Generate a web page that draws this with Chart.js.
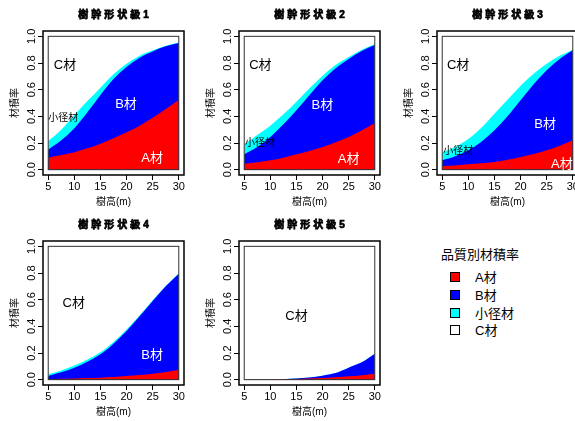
<!DOCTYPE html>
<html>
<head>
<meta charset="utf-8">
<script src="https://cdn.jsdelivr.net/npm/chart.js@4.4.1/dist/chart.umd.min.js"></script>
<style>
  body { margin:0; width:575px; height:421px; overflow:hidden; background:#fff; position:relative; }
  canvas { position:absolute; }
  .lg { position:absolute; font-family:"Liberation Sans","Noto Sans CJK JP",sans-serif; color:#000; white-space:nowrap; }
  .sw { position:absolute; width:10px; height:10px; border:1px solid #000; box-sizing:border-box; }
</style>
</head>
<body>
<script>
// tree height (m)
const heights = [5, 7.5, 10, 12.5, 15, 17.5, 20, 22.5, 25, 27.5, 30];
const xTicks = [5, 10, 15, 20, 25, 30];
const yTicks = [0, 0.2, 0.4, 0.6, 0.8, 1.0];

const seriesNames = ['A材', 'B材', '小径材', 'C材'];
const seriesColors = ['#ff0000', '#0000ff', '#00ffff', '#ffffff'];

// 樹幹形状級1
const aShare1 = [0.09, 0.11, 0.13, 0.16, 0.195, 0.235, 0.28, 0.33, 0.39, 0.455, 0.525];
const bShare1 = [0.06, 0.11, 0.18, 0.27, 0.365, 0.445, 0.49, 0.51, 0.497, 0.47, 0.425];
const sShare1 = [0.065, 0.08, 0.10, 0.085, 0.055, 0.035, 0.025, 0.015, 0.008, 0.005, 0.003];
// 樹幹形状級2
const aShare2 = [0.045, 0.055, 0.07, 0.09, 0.115, 0.14, 0.17, 0.205, 0.245, 0.295, 0.35];
const bShare2 = [0.07, 0.115, 0.175, 0.25, 0.33, 0.42, 0.5, 0.555, 0.585, 0.595, 0.585];
const sShare2 = [0.075, 0.09, 0.085, 0.075, 0.065, 0.05, 0.035, 0.025, 0.015, 0.01, 0.005];
// 樹幹形状級3
const aShare3 = [0.027, 0.032, 0.04, 0.048, 0.057, 0.074, 0.095, 0.118, 0.145, 0.18, 0.22];
const bShare3 = [0.043, 0.068, 0.105, 0.162, 0.238, 0.326, 0.425, 0.522, 0.6, 0.65, 0.675];
const sShare3 = [0.06, 0.07, 0.085, 0.105, 0.125, 0.125, 0.11, 0.08, 0.05, 0.025, 0.005];
// 樹幹形状級4
const aShare4 = [0.004, 0.006, 0.009, 0.012, 0.015, 0.02, 0.027, 0.035, 0.045, 0.058, 0.075];
const bShare4 = [0.024, 0.049, 0.081, 0.123, 0.175, 0.25, 0.338, 0.44, 0.545, 0.642, 0.72];
const sShare4 = [0.012, 0.014, 0.016, 0.016, 0.015, 0.013, 0.011, 0.008, 0.005, 0.003, 0.001];
// 樹幹形状級5
const aShare5 = [0, 0.001, 0.002, 0.003, 0.005, 0.008, 0.012, 0.018, 0.025, 0.034, 0.045];
const bShare5 = [0, 0, 0, 0.001, 0.003, 0.008, 0.018, 0.032, 0.065, 0.096, 0.15];
const sShare5 = [0, 0, 0, 0, 0, 0, 0, 0, 0, 0, 0];

const FONT = '"Liberation Sans","Noto Sans CJK JP",sans-serif';

const panels = [
  { title:'樹幹形状級1', a:aShare1, b:bShare1, s:sShare1,
    notes:[['C材',8.2,0.78,13,'#000'],['B材',19.9,0.49,13,'#fff'],['A材',24.9,0.083,13,'#fff'],['小径材',7.9,0.387,10,'#000']] },
  { title:'樹幹形状級2', a:aShare2, b:bShare2, s:sShare2,
    notes:[['C材',8.1,0.78,13,'#000'],['B材',19.95,0.48,13,'#fff'],['A材',25,0.08,13,'#fff'],['小径材',8.0,0.195,10,'#000']] },
  { title:'樹幹形状級3', a:aShare3, b:bShare3, s:sShare3,
    notes:[['C材',8.05,0.78,13,'#000'],['B材',24.7,0.34,13,'#fff'],['A材',27.9,0.04,13,'#fff'],['小径材',8.05,0.14,10,'#000']] },
  { title:'樹幹形状級4', a:aShare4, b:bShare4, s:sShare4,
    notes:[['C材',9.9,0.575,13,'#000'],['B材',24.9,0.18,13,'#fff']] },
  { title:'樹幹形状級5', a:aShare5, b:bShare5, s:sShare5,
    notes:[['C材',15,0.475,13,'#000']] }
];

const colLeft = [0, 196, 394];

// R base-graphics look: box, inner frame, rotated y labels, titles, text notes
const rBase = {
  id: 'rbase',
  afterDatasetsDraw(chart, args, opts) {
    const {ctx, chartArea: a, scales: {x, y}} = chart;
    ctx.save();
    const x0 = x.getPixelForValue(5), x1 = x.getPixelForValue(30);
    const y0 = y.getPixelForValue(0), y1 = y.getPixelForValue(1);
    ctx.strokeStyle = '#333';
    ctx.lineWidth = 1;
    ctx.strokeRect(x0, y1, x1 - x0, y0 - y1);

    ctx.textAlign = 'center';
    ctx.textBaseline = 'middle';
    opts.notes.forEach(n => {
      ctx.font = n[3] + 'px ' + FONT;
      ctx.fillStyle = n[4];
      ctx.fillText(n[0], x.getPixelForValue(n[1]), y.getPixelForValue(n[2]));
    });

    ctx.strokeStyle = '#000';
    ctx.lineWidth = 1.5;
    ctx.strokeRect(a.left, a.top, a.width, a.height);

    ctx.fillStyle = '#000';
    ctx.font = '11px ' + FONT;
    y.ticks.forEach(t => {
      ctx.save();
      ctx.translate(a.left - 11, y.getPixelForValue(t.value));
      ctx.rotate(-Math.PI / 2);
      ctx.fillText(t.value.toFixed(1), 0, 0);
      ctx.restore();
    });

    ctx.font = '10px ' + FONT;
    ctx.save();
    ctx.translate(a.left - 28, (y0 + y1) / 2);
    ctx.rotate(-Math.PI / 2);
    ctx.fillText('材積率', 0, 0);
    ctx.restore();
    ctx.fillText('樹高(m)', (x0 + x1) / 2, a.bottom + 27);

    // heavy title
    ctx.font = 'bold 10px ' + FONT;
    ctx.letterSpacing = '3px';
    ctx.lineWidth = 0.7;
    ctx.fillText(opts.title, (x0 + x1) / 2 + 1.5, 15);
    ctx.strokeText(opts.title, (x0 + x1) / 2 + 1.5, 15);
    ctx.restore();
  }
};

function series(vals, i) {
  return {
    label: seriesNames[i],
    data: heights.map((h, k) => ({x: h, y: vals[k]})),
    backgroundColor: seriesColors[i],
    borderWidth: 0,
    pointRadius: 0,
    fill: 'origin',
    cubicInterpolationMode: 'monotone'
  };
}

const tickGrid = {drawOnChartArea: false, drawTicks: true, tickLength: 5, color: '#000', lineWidth: 1};

panels.forEach((p, i) => {
  const col = i % 3, row = Math.floor(i / 3);
  const cv = document.createElement('canvas');
  cv.width = 197; cv.height = 210;
  cv.style.left = colLeft[col] + 'px';
  cv.style.top = (row * 210) + 'px';
  document.body.appendChild(cv);

  new Chart(cv, {
    type: 'line',
    data: { datasets: [series(p.a, 0), series(p.b, 1), series(p.s, 2)] },
    options: {
      responsive: false,
      devicePixelRatio: 1,
      animation: false,
      events: [],
      layout: { padding: {left: 0, right: 13, top: 31, bottom: 0} },
      scales: {
        x: {
          type: 'linear', min: 4, max: 31,
          afterBuildTicks: s => { s.ticks = xTicks.map(v => ({value: v})); },
          afterFit: s => { s.height = 35; },
          ticks: { font: {family: FONT, size: 11, lineHeight: 1}, color: '#000', padding: 1,
                   maxRotation: 0, autoSkip: false, callback: v => v },
          grid: tickGrid,
          border: {display: false}
        },
        y: {
          type: 'linear', min: -0.04, max: 1.04, stacked: true,
          afterBuildTicks: s => { s.ticks = yTicks.map(v => ({value: v})); },
          afterFit: s => { s.width = 43; },
          ticks: { display: false },
          grid: tickGrid,
          border: {display: false}
        }
      },
      plugins: {
        legend: {display: false},
        tooltip: {enabled: false},
        rbase: { title: p.title, notes: p.notes.map(n => ({0:n[0],1:n[1],2:n[2],3:n[3],4:n[4]})) }
      }
    },
    plugins: [rBase]
  });
});

// legend
const lgTitle = document.createElement('div');
lgTitle.className = 'lg';
lgTitle.style.cssText = 'left:420px;width:120px;top:247px;text-align:center;font-size:13px;line-height:16px;';
lgTitle.textContent = '品質別材積率';
document.body.appendChild(lgTitle);
seriesNames.forEach((name, i) => {
  const cy = 277 + i * 17.8;
  const sw = document.createElement('div');
  sw.className = 'sw';
  sw.style.left = '450px';
  sw.style.top = (cy - 5) + 'px';
  sw.style.background = seriesColors[i];
  document.body.appendChild(sw);
  const t = document.createElement('div');
  t.className = 'lg';
  t.style.cssText = 'left:475px;font-size:13px;line-height:16px;top:' + (cy - 7) + 'px;';
  t.textContent = name;
  document.body.appendChild(t);
});
</script>
</body>
</html>
